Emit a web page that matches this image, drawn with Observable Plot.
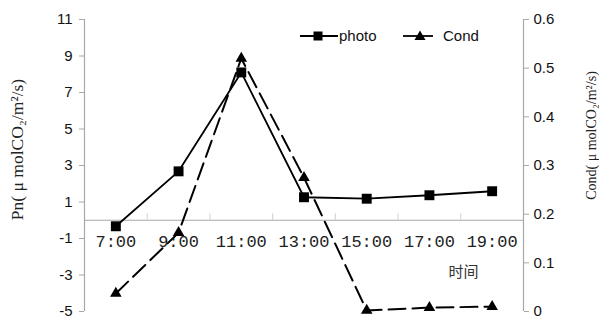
<!DOCTYPE html>
<html>
<head>
<meta charset="utf-8">
<script src="https://cdn.jsdelivr.net/npm/d3@7"></script>
<script src="https://cdn.jsdelivr.net/npm/@observablehq/plot@0.6"></script>
<style>
  html, body { margin: 0; padding: 0; background: #fff; }
  #wrap { position: relative; width: 599px; height: 320px; }
  #legend { position: absolute; left: 0; top: 0; width: 599px; height: 60px; pointer-events: none;
            font-family: Arial, "Liberation Sans", sans-serif; font-size: 15px; color: #111; }
</style>
</head>
<body>
<div id="wrap"></div>
<script>
// ---- data ----
const times = ["7:00", "9:00", "11:00", "13:00", "15:00", "17:00", "19:00"];
const photo = [-0.33, 2.68, 8.1, 1.26, 1.18, 1.37, 1.59];
const cond = [0.037, 0.162, 0.52, 0.275, 0.002, 0.008, 0.01];
const pnTicks = [-5, -3, -1, 1, 3, 5, 7, 9, 11];
const condTicks = [0, 0.1, 0.2, 0.3, 0.4, 0.5, 0.6];
const seriesNames = ["photo", "Cond"];
const leftLabel = "Pn( \u03bc molCO\u2082/m\u00b2/s)";
const rightLabel = "Cond( \u03bc molCO\u2082/m\u00b2/s)";
const xTitle = "时间";

// ---- derived ----
const hour = t => +t.split(":")[0];
const pnMin = -5, pnMax = 11, condMax = 0.6;
const toLeft = c => pnMin + c * (pnMax - pnMin) / condMax;
const fromLeft = v => (v - pnMin) * condMax / (pnMax - pnMin);
const rows = times.map((t, i) => ({t, h: hour(t), photo: photo[i], cond: toLeft(cond[i])}));
const hours = times.map(hour);
const bounds = hours.slice(0, -1).map(h => h + 1);
const xDomain = [hours[0] - 1, hours[hours.length - 1] + 1];

const axisGrey = "#a8a8a8";
const serif = "'Liberation Serif', 'DejaVu Serif', serif";
const sans = "Arial, 'Liberation Sans', sans-serif";

const chart = Plot.plot({
  width: 599,
  height: 320,
  marginLeft: 84,
  marginRight: 76,
  marginTop: 19,
  marginBottom: 9,
  style: {background: "#fff", overflow: "visible"},
  x: {domain: xDomain, axis: null},
  y: {domain: [pnMin, pnMax], axis: null},
  marks: [
    Plot.axisY(pnTicks, {anchor: "left", tickSize: 5, tickPadding: 7, stroke: axisGrey, fill: "#111",
      fontSize: 15, fontFamily: sans, label: null, tickFormat: d => String(d)}),
    Plot.axisY(condTicks.map(toLeft), {anchor: "right", tickSize: 5, tickPadding: 5, stroke: axisGrey, fill: "#111",
      fontSize: 15, fontFamily: sans, label: null, tickFormat: d => String(Math.round(fromLeft(d) * 10) / 10)}),
    Plot.ruleX(xDomain, {stroke: axisGrey, strokeWidth: 1.2}),
    Plot.ruleY([0], {stroke: axisGrey, strokeWidth: 1.2}),
    Plot.ruleX(bounds, {y1: 0, y2: 0.35, stroke: "#cfcfcf"}),
    Plot.line(rows, {x: "h", y: "photo", stroke: "#000", strokeWidth: 1.8}),
    Plot.dot(rows, {x: "h", y: "photo", symbol: "square", r: 5.6, fill: "#000", stroke: null}),
    Plot.line(rows, {x: "h", y: "cond", stroke: "#000", strokeWidth: 2, strokeDasharray: "17,7"}),
    Plot.dot(rows, {x: "h", y: "cond", symbol: "triangle", r: 4.3, fill: "#000", stroke: null}),
    Plot.text(rows, {x: "h", y: () => 0, text: "t", dy: 21, lineAnchor: "middle", fontSize: 17,
      fontFamily: "'Liberation Mono', 'DejaVu Sans Mono', monospace", fill: "#222"}),
    Plot.text([xTitle], {frameAnchor: "bottom-right", textAnchor: "middle", dx: -60, dy: -35, fontSize: 15,
      fontFamily: "'Noto Sans CJK SC', sans-serif", fill: "#333"}),
    Plot.text([leftLabel], {frameAnchor: "left", textAnchor: "middle", rotate: -90, dx: -67, dy: -16,
      fontSize: 17.5, fontFamily: serif, fill: "#222"}),
    Plot.text([rightLabel], {frameAnchor: "right", textAnchor: "middle", rotate: -90, dx: 68, dy: -30,
      fontSize: 14, fontFamily: serif, fill: "#222"})
  ]
});

const wrap = document.getElementById("wrap");
wrap.appendChild(chart);

// legend overlay
const legend = document.createElement("div");
legend.id = "legend";
legend.innerHTML = `
<svg width="599" height="60" style="position:absolute;left:0;top:0">
  <line x1="300" y1="36" x2="338" y2="36" stroke="#000" stroke-width="1.8"/>
  <rect x="313.5" y="31.5" width="9" height="9" fill="#000"/>
  <line x1="403" y1="36" x2="433" y2="36" stroke="#000" stroke-width="1.8"/>
  <path d="M420,30.5 L425.5,40 L414.5,40 Z" fill="#000"/>
  <text x="339" y="41" font-family="Arial, 'Liberation Sans', sans-serif" font-size="15" fill="#111">${seriesNames[0]}</text>
  <text x="443" y="41" font-family="Arial, 'Liberation Sans', sans-serif" font-size="15" fill="#111">${seriesNames[1]}</text>
</svg>`;
wrap.appendChild(legend);
</script>
</body>
</html>
